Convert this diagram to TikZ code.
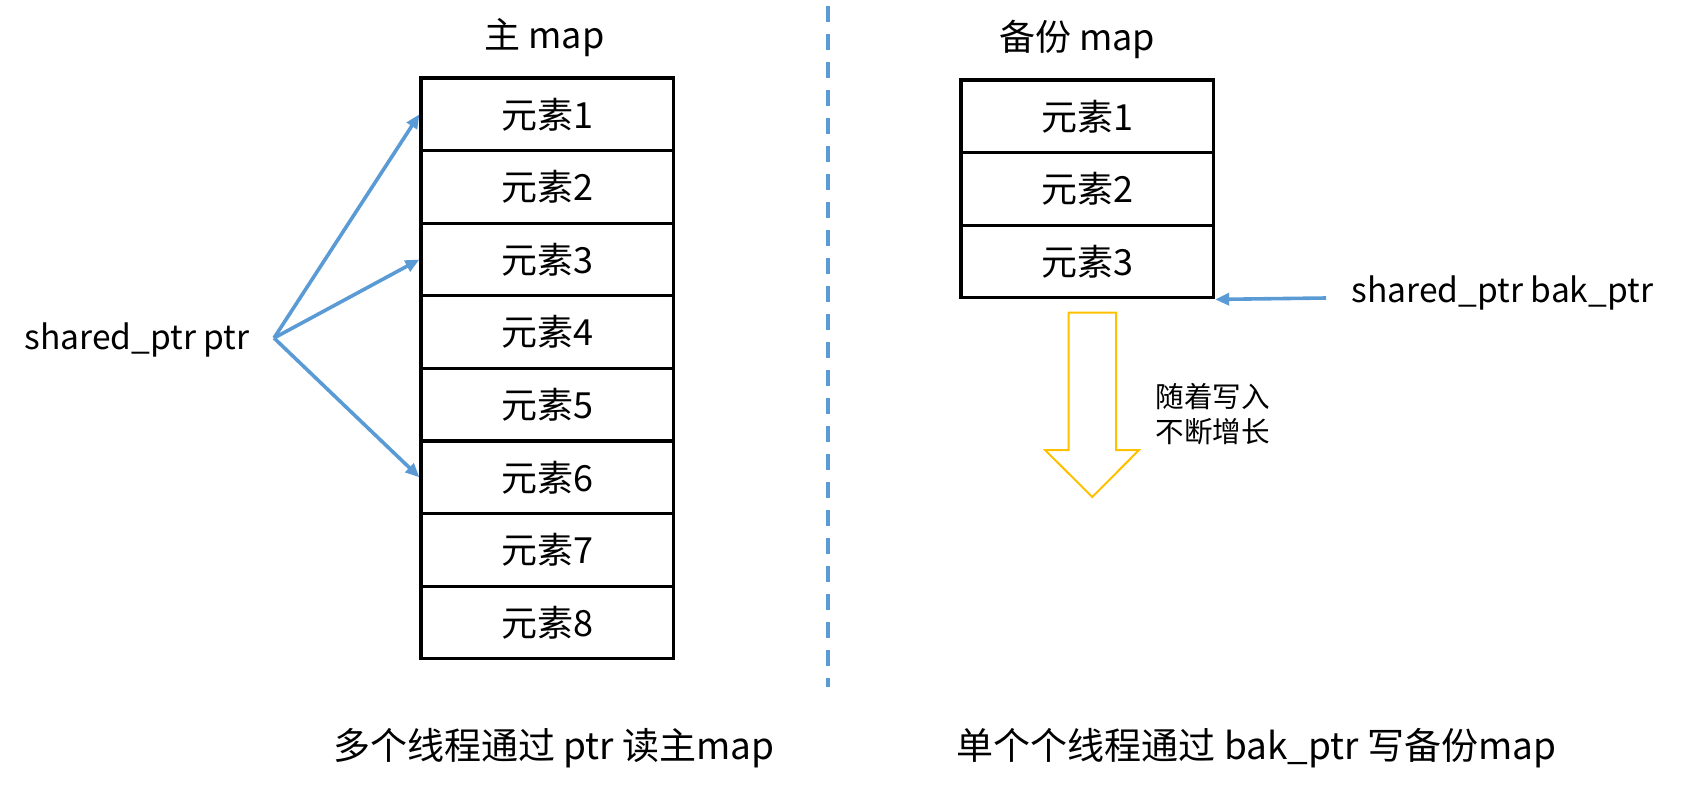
\documentclass[tikz,border=0pt]{standalone}
\usepackage{fontspec}
\setmainfont{Noto Sans CJK SC}
\usetikzlibrary{arrows.meta}
\definecolor{lineblue}{HTML}{5B9BD5}
\definecolor{arrowyellow}{HTML}{FFC000}
\tikzset{
  cell/.style={draw, line width=1.6pt, minimum width=126.25pt, minimum height=36.3pt, inner sep=0pt, font=\fontsize{18}{21}\selectfont},
  ptrarrow/.style={draw=lineblue, line width=1.8pt, -{Triangle[length=7pt,width=6pt]}},
  title/.style={font=\fontsize{18}{22}\selectfont},
  label/.style={font=\fontsize{16.8}{20}\selectfont},
  caption/.style={font=\fontsize{18.5}{22}\selectfont},
  note/.style={font=\fontsize{14.3}{17.5}\selectfont, align=left},
}
\begin{document}
\begin{tikzpicture}[x=0.5pt,y=-0.5pt]
\useasboundingbox (0,0) rectangle (1684,793);
% main map
\node[title] (t1) at (544.5,37.6) {主 map};
\foreach \i in {1,...,8} {
  \node[cell] (m\i) at (547.25,{78+72.6*(\i-0.5)}) {元素\i};
}
% backup map
\node[title] (t2) at (1077,39.7) {备份 map};
\foreach \i in {1,...,3} {
  \node[cell] (b\i) at (1087.3,{80+72.6*(\i-0.5)}) {元素\i};
}
% shared_ptr ptr
\node[label, anchor=east, inner sep=0pt] (sp) at (250,340) {shared\_ptr ptr};
\coordinate (o) at (274,338);
\draw[ptrarrow] (o) -- (m1.west);
\draw[ptrarrow] (o) -- (m3.west);
\draw[ptrarrow] (o) -- (m6.west);
% bak_ptr
\node[label, anchor=west, inner sep=0pt] (bp) at (1351,293) {shared\_ptr bak\_ptr};
\coordinate (bo) at (1326,298);
\draw[ptrarrow] (bo) -- (b3.south east);
% dashed divider
\coordinate (d1) at (828,6);
\coordinate (d2) at (828,687);
\draw[lineblue, line width=1.75pt, dash pattern=on 8pt off 6pt] (d1) -- (d2);
% growth arrow
\draw[arrowyellow, line width=1pt, line join=miter] (1068.7,312.5) -- (1116,312.5) -- (1116,450) -- (1139,450) -- (1092.3,497) -- (1045,450) -- (1068.7,450) -- cycle;
\node[note, anchor=west, inner sep=0pt] (gn) at (1155,414) {随着写入\\不断增长};
% captions
\node[caption] (c1) at (554,748.6) {多个线程通过 ptr 读主map};
\node[caption] (c2) at (1256.6,748.6) {单个个线程通过 bak\_ptr 写备份map};
\end{tikzpicture}
\end{document}
